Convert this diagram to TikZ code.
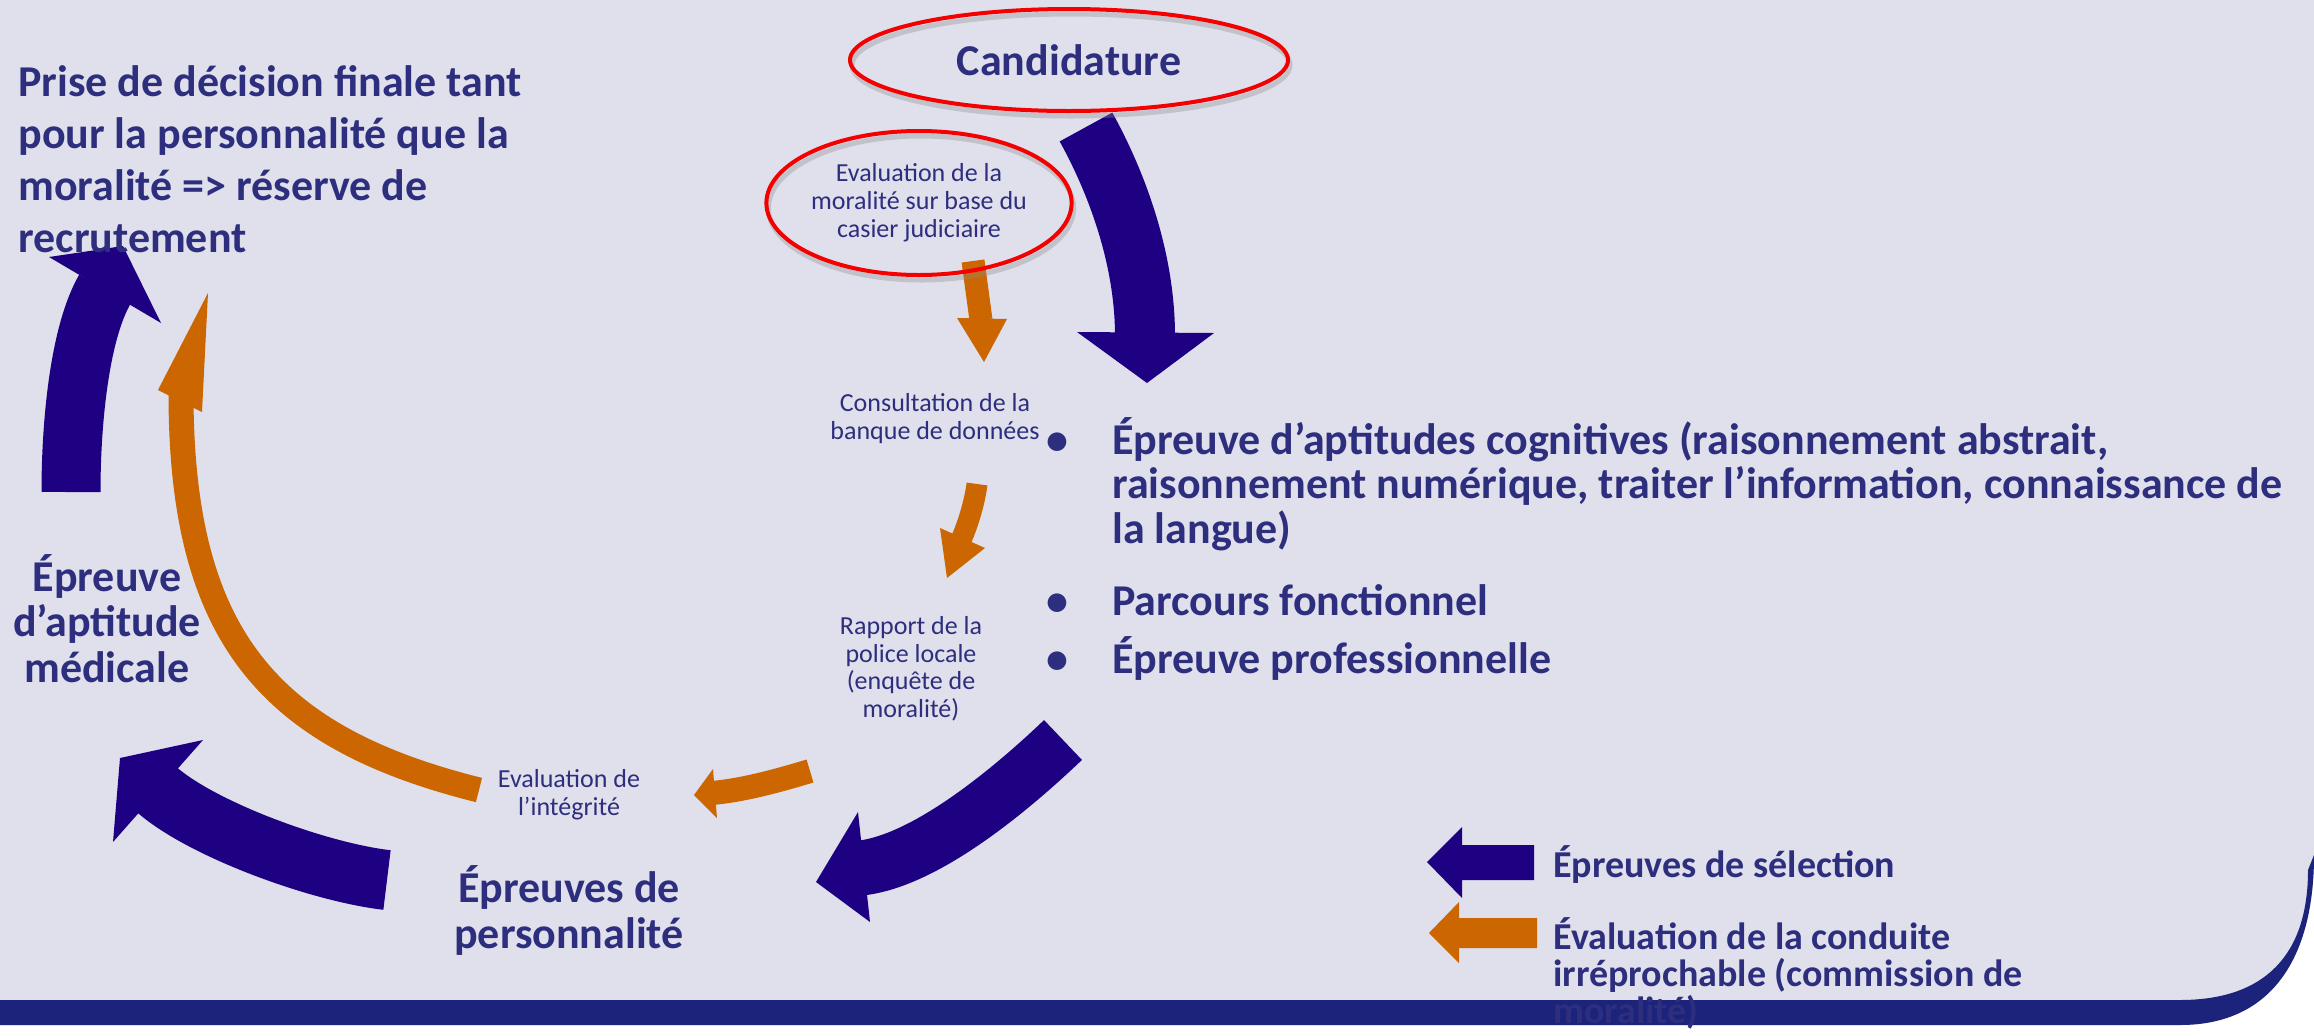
\documentclass[tikz,border=0pt]{standalone}
\usepackage{fontspec}
\setmainfont{Carlito}
\usetikzlibrary{shapes.geometric}

\definecolor{panelbg}{RGB}{224,223,236}
\definecolor{bandblue}{RGB}{27,36,122}
\definecolor{selblue}{RGB}{30,0,130}
\definecolor{condorange}{RGB}{204,102,0}
\definecolor{txtblue}{RGB}{45,46,125}
\definecolor{ovalred}{RGB}{245,0,0}

\begin{document}
\begin{tikzpicture}[x=0.5pt,y=-0.5pt]
      \tikzstyle{title}=[anchor=base west, align=left, inner sep=0pt, text=txtblue, font=\fontsize{22}{25.85}\selectfont\bfseries]
      \tikzstyle{stage}=[anchor=base, align=center, inner sep=0pt, text=txtblue, font=\fontsize{22}{22.75}\selectfont\bfseries]
      \tikzstyle{check}=[anchor=base, align=center, inner sep=0pt, text=txtblue, font=\fontsize{13}{14}\selectfont]
      \tikzstyle{legend}=[anchor=base west, align=left, inner sep=0pt, text=txtblue, font=\fontsize{19}{18.5}\selectfont\bfseries]
      \tikzstyle{oval}=[ellipse, draw=ovalred, line width=2pt, inner sep=0pt, text=txtblue,
                        preaction={draw=black!45, opacity=0.35, line width=2.5pt, transform canvas={xshift=1pt, yshift=-2.5pt}}]
      \tikzstyle{selection}=[draw=selblue, line width=30pt]
      \tikzstyle{conduct}=[draw=condorange, line width=12pt]
      \tikzstyle{selhead}=[fill=selblue]
      \tikzstyle{condhead}=[fill=condorange]

      \useasboundingbox (0,0) rectangle (2314,1035);

      % background, bottom band and rounded corner
      \fill[white] (0,0) rectangle (2314,1035);
      \fill[panelbg] (0,0) -- (2314,0) -- (2314,855) .. controls (2314,960) and (2270,1025) .. (2180,1025) -- (0,1025) -- cycle;
      \fill[bandblue] (0,1000) -- (2180,1000) .. controls (2265,1000) and (2308,955) .. (2308,870)
            -- (2314,855) .. controls (2314,960) and (2270,1025) .. (2180,1025) -- (0,1025) -- cycle;

      % selection route
      \coordinate (sel1a) at (1086,127);
      \coordinate (sel1b) at (1145,336);
      \draw[selection] (sel1a) .. controls (1118,185) and (1145,260) .. (sel1b);
      \fill[selhead] (1077,332) -- (1214,333) -- (1147,383) -- cycle;

      \coordinate (sel2a) at (1063,740);
      \coordinate (sel2b) at (861,868);
      \draw[selection, line width=27.5pt] (sel2a) .. controls (1020,781) and (930,860) .. (sel2b);
      \fill[selhead] (858,812) -- (816,882) -- (870,922) -- cycle;

      \coordinate (sel3a) at (387,880);
      \coordinate (sel3b) at (156,789);
      \draw[selection] (sel3a) .. controls (318,872) and (201,829) .. (sel3b);
      \fill[selhead] (203,740) -- (120,758) -- (113,842) -- cycle;

      \coordinate (sel4a) at (71,492);
      \coordinate (sel4b) at (105,289);
      \draw[selection, line width=29.5pt] (sel4a) .. controls (71,420) and (80,332) .. (sel4b);
      \fill[selhead] (49,257) -- (123,246) -- (161,323) -- cycle;

      % conduct route
      \coordinate (con1a) at (973,261);
      \coordinate (con1b) at (981,320);
      \draw[conduct, line width=11.5pt] (con1a) -- (con1b);
      \fill[condhead] (957,318) -- (1007,319) -- (984,362) -- cycle;

      \coordinate (con2a) at (977,484);
      \coordinate (con2b) at (961,540);
      \draw[conduct, line width=10.5pt] (con2a) .. controls (975,500) and (969,522) .. (con2b);
      \fill[condhead] (940,528) -- (947,578) -- (985,548) -- cycle;

      \coordinate (con3a) at (810,771);
      \coordinate (con3b) at (712,793);
      \draw[conduct] (con3a) .. controls (780,780) and (745,790) .. (con3b);
      \fill[condhead] (713,769) -- (694,795) -- (717,818) -- cycle;

      \coordinate (con4a) at (479,790);
      \coordinate (con4b) at (181,393);
      \draw[conduct, line width=12.5pt] (con4a) .. controls (266,737) and (181,633) .. (con4b);
      \fill[condhead] (158,390) -- (208,293) -- (202,412) -- cycle;

      % ovals
      \node[oval, minimum width=219pt, minimum height=51pt, font=\fontsize{22}{26}\selectfont\bfseries] (cand) at (1069,60) {Candidature};
      \node[oval, minimum width=150pt, minimum height=72pt, align=center, font=\fontsize{13}{14}\selectfont] (casier) at (919,203)
            {Evaluation de la\\moralité sur base du\\casier judiciaire};

      % texts
      \node[title] (decis) at (18,252) {Prise de décision finale tant\\pour la personnalité que la\\moralité => réserve de\\recrutement};
      \node[check] (banque) at (935,439) {Consultation de la\\banque de données};
      \node[check, font=\fontsize{13}{13.7}\selectfont] (police) at (911,717) {Rapport de la\\police locale\\(enquête de\\moralité)};
      \node[check] (integ) at (569,815) {Evaluation de\\l’intégrité};
      \node[stage] (perso) at (569,948) {Épreuves de\\personnalité};
      \node[stage] (medic) at (107,682) {Épreuve\\d’aptitude\\médicale};
      \node[anchor=base west, align=left, inner sep=0pt, text=txtblue, font=\fontsize{22}{22.25}\selectfont\bfseries] (tests) at (1112,673)
            {\llap{\makebox[27.5pt][l]{\makebox[0pt][c]{•}}}Épreuve d’aptitudes cognitives (raisonnement abstrait,\\
             raisonnement numérique, traiter l’information, connaissance de\\
             la langue)\\[13.75pt]
             \llap{\makebox[27.5pt][l]{\makebox[0pt][c]{•}}}Parcours fonctionnel\\[6.75pt]
             \llap{\makebox[27.5pt][l]{\makebox[0pt][c]{•}}}Épreuve professionnelle};

      % legend
      \fill[selhead] (1427,862) -- (1462,827) -- (1462,845) -- (1534,845) -- (1534,880) -- (1462,880) -- (1462,898) -- cycle;
      \fill[condhead] (1429,933) -- (1459,902) -- (1459,918) -- (1537,918) -- (1537,948) -- (1459,948) -- (1459,963) -- cycle;
      \node[legend] (leg1) at (1553,877) {Épreuves de sélection};
      \node[legend] (leg2) at (1553,1023) {Évaluation de la conduite\\irréprochable (commission de\\moralité)};
\end{tikzpicture}
\end{document}
